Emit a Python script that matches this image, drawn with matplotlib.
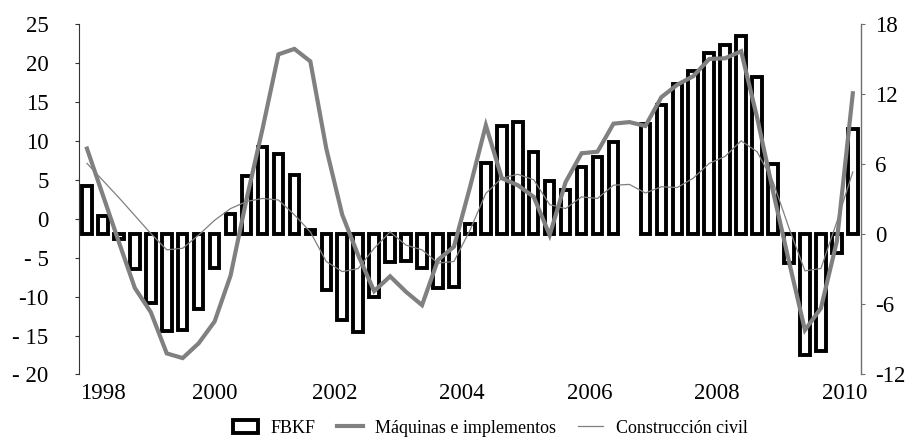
import numpy as np
import matplotlib
matplotlib.use("Agg")
from matplotlib import pyplot as plt
from matplotlib.patches import Patch
from matplotlib.lines import Line2D

plt.rcParams['font.family'] = ['Liberation Serif', 'DejaVu Serif']

# quarterly series, 1998Q1 .. 2010Q1
# FBKF (right axis), 2006Q3 missing
fbkf = [4.1, 1.6, -0.4, -3.0, -5.9, -8.3, -8.2, -6.4, -2.9, 1.7, 5.0, 7.5,
        6.9, 5.1, 0.4, -4.8, -7.3, -8.4, -5.4, -2.4, -2.3, -2.9, -4.6, -4.5,
        0.9, 6.1, 9.25, 9.6, 7.0, 4.6, 3.8, 5.8, 6.6, 7.9, np.nan, 9.4,
        11.1, 12.9, 14.0, 15.5, 16.2, 17.0, 13.5, 6.0, -2.5, -10.3, -10.0, -1.6,
        9.0]
# Maquinas e implementos (left axis)
maquinas = [9.0, 3.0, -3.0, -8.9, -12.0, -17.3, -17.9, -16.0, -13.2, -7.3, 2.5, 11.5,
            21.1, 21.8, 20.2, 9.0, 0.5, -4.7, -9.3, -7.4, -9.4, -11.1, -5.3, -3.6,
            4.0, 12.0, 5.2, 4.3, 2.8, -2.1, 4.7, 8.4, 8.6, 12.2, 12.4, 11.9,
            15.6, 17.2, 18.3, 20.5, 20.6, 21.5, 13.0, 3.5, -5.5, -14.3, -11.5, -2.9,
            16.1]
# Construccion civil (left axis)
construccion = [7.1, 4.9, 2.7, 0.4, -1.9, -4.0, -3.8, -2.1, -0.2, 1.3, 2.2, 2.6,
                2.4, 0.5, -1.7, -5.5, -6.8, -6.4, -3.8, -1.7, -3.4, -4.0, -5.7, -5.5,
                -1.5, 3.25, 5.2, 5.7, 5.0, 1.8, 1.3, 2.8, 2.6, 4.3, 4.4, 3.3,
                4.1, 4.0, 5.2, 7.1, 8.0, 10.0, 8.6, 4.75, -1.2, -6.7, -6.4, -0.4,
                6.0]

year_labels = ['1998', '2000', '2002', '2004', '2006', '2008', '2010']
left_ticks = [25, 20, 15, 10, 5, 0, -5, -10, -15, -20]
left_labels = ['25', '20', '15', '10', '5', '0', '- 5', '-10', '- 15', '- 20']
right_ticks = [18, 12, 6, 0, -6, -12]
right_labels = ['18', '12', '6', '0', '-6', '-12']

x = np.arange(len(fbkf))
gray = '#808080'

fig = plt.figure(figsize=(9.08, 4.40), dpi=100)
ax = fig.add_axes([0.087, 0.149, 0.861, 0.7965])
ax2 = ax.twinx()

# bars on the right scale
ax2.bar(x, fbkf, width=0.6, facecolor='white', edgecolor='black', linewidth=2.8)
ax2.set_ylim(-12, 18)

# lines on the left scale, drawn above the bars
ax.plot(x, maquinas, color=gray, linewidth=3.0, solid_joinstyle='miter')
ax.plot(x, construccion, color=gray, linewidth=0.9)
ax.set_ylim(-20, 25)
ax.set_xlim(-0.5, len(fbkf) - 0.5)
ax.set_zorder(ax2.get_zorder() + 1)
ax.patch.set_visible(False)

ax.set_yticks(left_ticks)
ax.set_yticklabels(left_labels)
ax2.set_yticks(right_ticks)
ax2.set_yticklabels(right_labels)

# year labels at start of each year (first two shifted as in the original)
tick_pos = [1.0, 8.0] + [15.5 + 8 * i for i in range(len(year_labels) - 2)]
ax.set_xticks(tick_pos)
ax.set_xticklabels(year_labels)

for a in (ax, ax2):
    a.spines['top'].set_visible(False)
    a.spines['bottom'].set_visible(False)
ax.spines['right'].set_visible(False)
ax2.spines['left'].set_visible(False)
ax.spines['left'].set_color('#333333')
ax2.spines['right'].set_color('#707070')
ax2.spines['right'].set_linewidth(1.0)

ax.tick_params(axis='y', direction='out', length=3, pad=19, labelsize=16.5, color='#333333')
ax.tick_params(axis='x', length=0, pad=6, labelsize=16.5)
ax2.tick_params(axis='y', direction='out', length=3, pad=7, labelsize=16.5, color='#707070')

handles = [Patch(facecolor='white', edgecolor='black', linewidth=2.8),
           Line2D([0], [0], color=gray, linewidth=3.0),
           Line2D([0], [0], color=gray, linewidth=0.9)]
labels = ['FBKF', 'Máquinas e implementos', 'Construcción civil']
fig.legend(handles, labels, loc='center', bbox_to_anchor=(0.54, 0.027), ncol=3,
           frameon=False, fontsize=13, handlelength=1.4, columnspacing=1.2,
           handletextpad=0.7)

fig.savefig('out.png', dpi=100)
